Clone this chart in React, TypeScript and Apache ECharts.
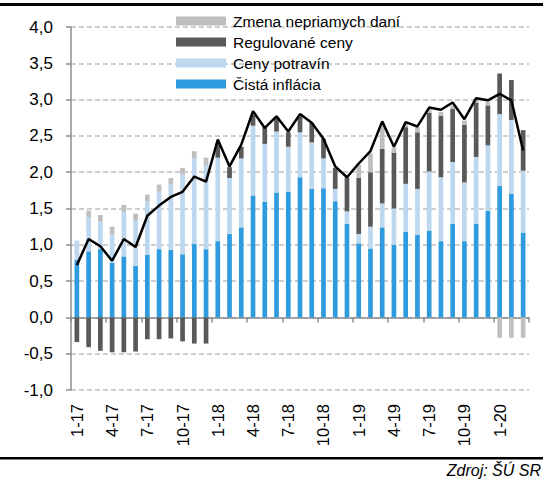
import React, { useEffect, useRef } from "react";
import * as echarts from "echarts";

const categories = [
  "1-17", "2-17", "3-17", "4-17", "5-17", "6-17", "7-17", "8-17", "9-17", "10-17", "11-17", "12-17",
  "1-18", "2-18", "3-18", "4-18", "5-18", "6-18", "7-18", "8-18", "9-18", "10-18", "11-18", "12-18",
  "1-19", "2-19", "3-19", "4-19", "5-19", "6-19", "7-19", "8-19", "9-19", "10-19", "11-19", "12-19",
  "1-20", "2-20", "3-20",
];

const coreInflation = [
  0.79, 0.91, 0.94, 0.75, 0.84, 0.71, 0.86, 0.94, 0.93, 0.87, 1.01, 0.94,
  1.05, 1.15, 1.24, 1.68, 1.59, 1.72, 1.73, 1.93, 1.77, 1.78, 1.60, 1.29,
  1.02, 0.95, 1.24, 1.00, 1.18, 1.14, 1.19, 1.05, 1.29, 1.05, 1.29, 1.47,
  1.81, 1.70, 1.17,
];

const foodPrices = [
  0.27, 0.47, 0.38, 0.40, 0.61, 0.62, 0.74, 0.79, 0.90, 1.10, 1.18, 1.16,
  1.15, 0.77, 0.95, 0.96, 0.80, 0.84, 0.62, 0.62, 0.64, 0.41, 0.17, 0.17,
  0.13, 0.30, 0.33, 0.50, 0.66, 0.63, 0.82, 0.88, 0.85, 0.81, 0.92, 0.90,
  0.99, 1.02, 0.85,
];

const regulatedPrices = [
  -0.34, -0.41, -0.46, -0.48, -0.48, -0.47, -0.30, -0.30, -0.29, -0.33, -0.36, -0.36,
  0.20, 0.15, 0.16, 0.15, 0.23, 0.19, 0.20, 0.22, 0.27, 0.27, 0.29, 0.47,
  0.77, 0.75, 0.75, 0.77, 0.78, 0.78, 0.81, 0.85, 0.73, 0.79, 0.75, 0.55,
  0.56, 0.55, 0.56,
];

const indirectTaxes = [
  0.0, 0.09, 0.09, 0.10, 0.10, 0.10, 0.09, 0.10, 0.09, 0.09, 0.10, 0.10,
  0.0, 0.0, 0.0, 0.0, 0.0, 0.0, 0.0, 0.0, 0.0, 0.0, 0.0, 0.0,
  0.18, 0.26, 0.36, 0.07, 0.05, 0.07, 0.05, 0.05, 0.05, 0.06, 0.05, 0.05,
  -0.28, -0.28, -0.28,
];

const totalInflation = [
  0.72, 1.08, 0.98, 0.78, 1.08, 0.97, 1.40, 1.54, 1.66, 1.73, 1.94, 1.87,
  2.45, 2.08, 2.38, 2.84, 2.61, 2.77, 2.56, 2.80, 2.68, 2.46, 2.08, 1.93,
  2.12, 2.29, 2.70, 2.35, 2.69, 2.63, 2.89, 2.86, 2.96, 2.73, 3.02, 2.99,
  3.08, 2.99, 2.30,
];

const seriesNames = ["Zmena nepriamych daní", "Regulované ceny", "Ceny potravín", "Čistá inflácia"];

const FONT = "'Liberation Sans', Arial, sans-serif";

export default function App() {
  const ref = useRef<HTMLDivElement>(null);

  useEffect(() => {
    if (!ref.current) return;
    const chart = echarts.init(ref.current, undefined, { renderer: "svg" });
    const barCommon = { type: "bar", stack: "total", barWidth: "40%", xAxisIndex: 0 };
    chart.setOption({
      animation: false,
      backgroundColor: "#ffffff",
      textStyle: { fontFamily: FONT },
      grid: { left: 71, right: 14, top: 27, bottom: 90, containLabel: false },
      legend: {
        orient: "vertical",
        left: 176,
        top: 13,
        padding: 0,
        itemGap: 5,
        itemWidth: 50,
        itemHeight: 9,
        icon: "rect",
        data: seriesNames,
        textStyle: { fontFamily: FONT, fontSize: 15.5, color: "#000", lineHeight: 16, padding: [0, 0, 0, 2] },
      },
      xAxis: [
        {
          type: "category",
          data: categories,
          position: "bottom",
          axisLine: { show: false, onZero: false },
          axisTick: { show: false },
          axisLabel: {
            interval: 2,
            rotate: 90,
            margin: 14,
            fontSize: 16.5,
            color: "#000",
            fontFamily: FONT,
          },
          splitLine: { show: false },
        },
        {
          type: "category",
          data: categories,
          position: "top",
          axisLine: { show: true, onZero: true, lineStyle: { color: "#8c8c8c", width: 1.5 } },
          axisTick: { show: true, interval: 2, inside: true, length: 5, lineStyle: { color: "#8c8c8c", width: 1.5 } },
          axisLabel: { show: false },
          splitLine: { show: false },
        },
      ],
      yAxis: {
        type: "value",
        min: -1,
        max: 4,
        interval: 0.5,
        axisLine: { show: true, lineStyle: { color: "#8c8c8c", width: 1.5 } },
        axisTick: { show: true, length: 5, lineStyle: { color: "#8c8c8c", width: 1.5 } },
        axisLabel: {
          margin: 18,
          fontSize: 17,
          color: "#000",
          fontFamily: FONT,
          formatter: (v: number) => v.toFixed(1).replace(".", ","),
        },
        splitLine: { show: true, lineStyle: { color: "#bfbfbf", width: 1.5, type: [5, 3] } },
      },
      series: [
        { ...barCommon, name: "Čistá inflácia", data: coreInflation, itemStyle: { color: "#2e9bdf" } },
        { ...barCommon, name: "Ceny potravín", data: foodPrices, itemStyle: { color: "#bdd7ee" } },
        { ...barCommon, name: "Regulované ceny", data: regulatedPrices, itemStyle: { color: "#595959" } },
        { ...barCommon, name: "Zmena nepriamych daní", data: indirectTaxes, itemStyle: { color: "#bfbfbf" } },
        {
          type: "line",
          name: "Spolu",
          data: totalInflation,
          xAxisIndex: 0,
          symbol: "none",
          lineStyle: { color: "#000", width: 2.5 },
          z: 5,
        },
      ],
      graphic: [
        { type: "rect", left: 0, top: 3, shape: { width: 543, height: 3 }, style: { fill: "#000" } },
        { type: "rect", left: 0, top: 457, shape: { width: 543, height: 2.5 }, style: { fill: "#000" } },
        {
          type: "text",
          right: 2,
          top: 462,
          style: { text: "Zdroj: ŠÚ SR", font: `italic 16px ${FONT}`, fill: "#000" },
        },
      ],
    });
    return () => chart.dispose();
  }, []);

  return (
    <div
      ref={ref}
      style={{ position: "fixed", left: 0, top: 0, width: 543, height: 480 }}
    />
  );
}
